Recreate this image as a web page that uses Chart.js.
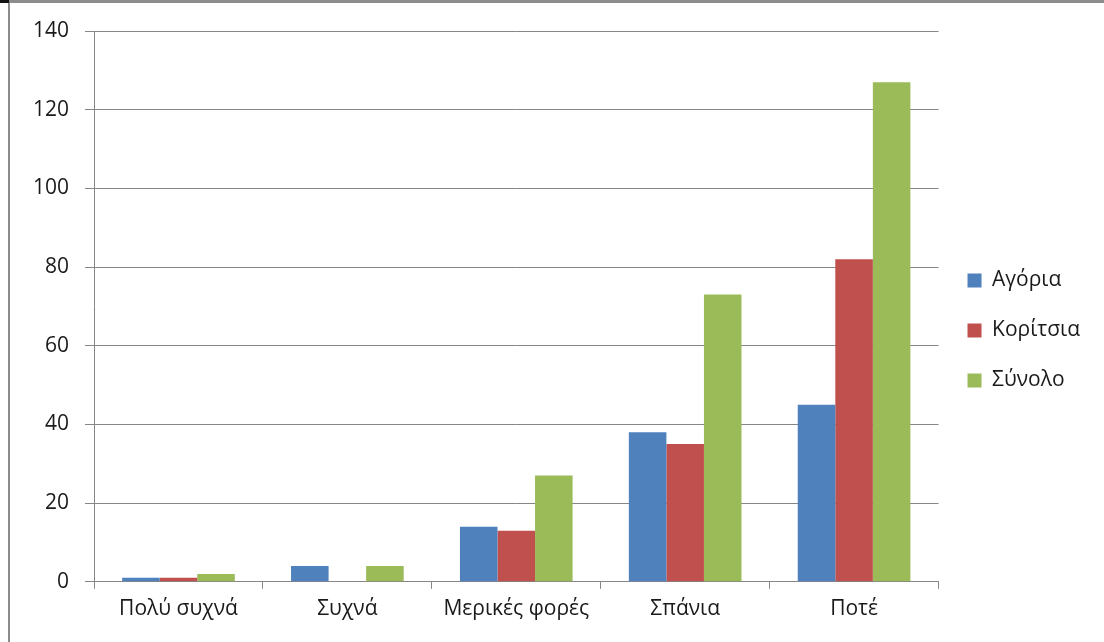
<!DOCTYPE html>
<html>
<head>
<meta charset="utf-8">
<script src="https://cdn.jsdelivr.net/npm/chart.js@4/dist/chart.umd.min.js"></script>
<style>
    html, body { margin: 0; padding: 0; background: #fff; }
    #wrap { position: relative; width: 1104px; height: 642px; }
    #frame {
        position: absolute; left: 8px; top: 0; right: 0; bottom: 0;
        border-top: 3px solid #8c8c8c; border-left: 2px solid #8c8c8c;
        pointer-events: none;
    }
    #corner { position: absolute; left: 0; top: 0; width: 9px; height: 3px; background: #111; }
    canvas { position: absolute; left: 0; top: 0; }
</style>
</head>
<body>
<div id="wrap">
    <canvas id="chart" width="1104" height="642"></canvas>
    <div id="frame"></div>
    <div id="corner"></div>
</div>
<script>
    const categories = ['Πολύ συχνά', 'Συχνά', 'Μερικές φορές', 'Σπάνια', 'Ποτέ'];
    const boys = [1, 4, 14, 38, 45];
    const girls = [1, 0, 13, 35, 82];
    const total = [2, 4, 27, 73, 127];
    const seriesNames = ['Αγόρια', 'Κορίτσια', 'Σύνολο'];
    const colors = ['#4F81BD', '#C0504D', '#9BBB59'];

    const fontFamily = "'Open Sans', 'DejaVu Sans', sans-serif";
    const gridColor = '#868686';
    const textColor = '#1a1a1a';

    new Chart(document.getElementById('chart'), {
        type: 'bar',
        data: {
            labels: categories,
            datasets: [boys, girls, total].map((values, i) => ({
                label: seriesNames[i],
                data: values,
                backgroundColor: colors[i],
                borderWidth: 0,
                categoryPercentage: 0.667,
                barPercentage: 1
            }))
        },
        options: {
            responsive: false,
            animation: false,
            layout: { padding: { top: 31, left: 17, right: 14, bottom: 12 } },
            scales: {
                x: {
                    grid: {
                        offset: true,
                        drawOnChartArea: false,
                        drawTicks: true,
                        tickLength: 7,
                        color: gridColor
                    },
                    border: { color: gridColor, width: 1 },
                    ticks: {
                        color: textColor,
                        padding: 8,
                        font: { family: fontFamily, size: 21 },
                        maxRotation: 0
                    }
                },
                y: {
                    min: 0,
                    max: 140,
                    ticks: {
                        stepSize: 20,
                        color: textColor,
                        padding: 16,
                        font: { family: fontFamily, size: 21 }
                    },
                    grid: { color: gridColor, tickLength: 9 },
                    border: { color: gridColor, width: 1 }
                }
            },
            plugins: {
                legend: {
                    position: 'right',
                    labels: {
                        boxWidth: 14,
                        boxHeight: 14,
                        padding: 29,
                        color: textColor,
                        font: { family: fontFamily, size: 21 }
                    }
                },
                tooltip: { enabled: false }
            }
        }
    });
</script>
</body>
</html>
